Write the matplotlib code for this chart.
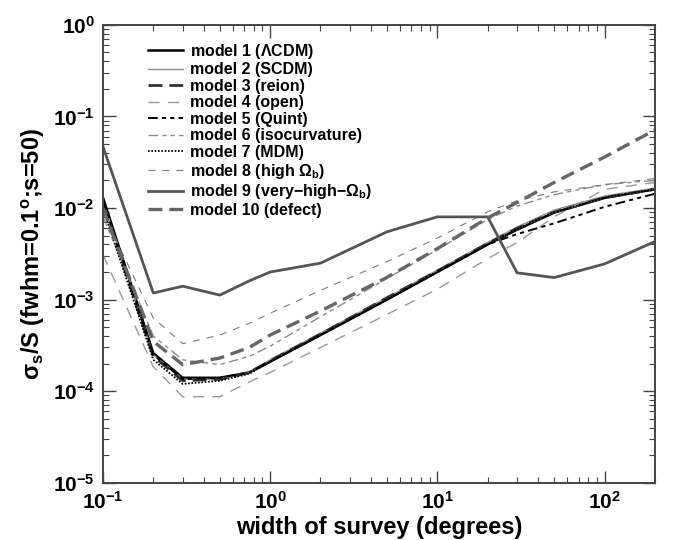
import matplotlib
matplotlib.use("Agg")
import matplotlib.pyplot as plt
from matplotlib.ticker import LogLocator, LogFormatterMathtext, NullFormatter

plt.rcParams['font.family'] = ['Liberation Sans', 'DejaVu Sans']
plt.rcParams['font.weight'] = 'bold'
plt.rcParams['mathtext.fontset'] = 'custom'
plt.rcParams['mathtext.rm'] = 'Liberation Sans:bold'
plt.rcParams['mathtext.bf'] = 'Liberation Sans:bold'
plt.rcParams['mathtext.it'] = 'Liberation Sans:bold'
plt.rcParams['lines.scale_dashes'] = False

# survey width (degrees)
width = [0.1, 0.2, 0.3, 0.5, 0.75, 1, 2, 5, 10, 20, 30, 50, 100, 200]

m1 = [0.013, 2.6e-4, 1.4e-4, 1.4e-4, 1.6e-4, 2.1e-4, 4.1e-4, 1.0e-3, 2.0e-3, 4.0e-3, 5.8e-3, 8.9e-3, 1.29e-2, 1.6e-2]
m2 = [0.012, 2.5e-4, 1.35e-4, 1.35e-4, 1.6e-4, 2.2e-4, 4.3e-4, 1.05e-3, 2.1e-3, 4.2e-3, 6.2e-3, 9.5e-3, 1.35e-2, 1.65e-2]
m3 = [0.011, 2.4e-4, 1.3e-4, 1.35e-4, 1.6e-4, 2.15e-4, 4.2e-4, 1.05e-3, 2.05e-3, 4.1e-3, 6.0e-3, 9.0e-3, 1.3e-2, 1.6e-2]
m4 = [3.1e-3, 1.85e-4, 8.7e-5, 8.7e-5, 1.26e-4, 1.6e-4, 3.0e-4, 6.9e-4, 1.3e-3, 2.8e-3, 4.2e-3, 8.0e-3, 1.6e-2, 1.9e-2]
m5 = [0.012, 2.5e-4, 1.35e-4, 1.4e-4, 1.6e-4, 2.1e-4, 4.1e-4, 1.0e-3, 2.0e-3, 4.0e-3, 5.2e-3, 6.8e-3, 1.03e-2, 1.43e-2]
m6 = [8e-3, 4e-4, 2.2e-4, 1.95e-4, 2.4e-4, 3.1e-4, 6.5e-4, 1.7e-3, 3.5e-3, 7.5e-3, 1.05e-2, 1.4e-2, 1.8e-2, 2.0e-2]
m7 = [0.01, 2.2e-4, 1.2e-4, 1.3e-4, 1.55e-4, 2.1e-4, 4.1e-4, 1.0e-3, 2.0e-3, 4.0e-3, 5.9e-3, 9.0e-3, 1.3e-2, 1.6e-2]
m8 = [9e-3, 6.3e-4, 3.3e-4, 4.1e-4, 5.5e-4, 7.1e-4, 1.26e-3, 2.6e-3, 4.7e-3, 9.1e-3, 1.2e-2, 1.5e-2, 1.8e-2, 2.1e-2]
m9 = [0.047, 1.18e-3, 1.4e-3, 1.12e-3, 1.6e-3, 2.0e-3, 2.5e-3, 5.5e-3, 8e-3, 8e-3, 1.96e-3, 1.74e-3, 2.45e-3, 4.3e-3]
m10 = [0.01, 3.5e-4, 1.95e-4, 2.3e-4, 3.0e-4, 4.1e-4, 7.5e-4, 1.75e-3, 3.6e-3, 7.8e-3, 1.15e-2, 1.9e-2, 3.6e-2, 7.1e-2]

labels = ["model 1 ($\\Lambda$CDM)", "model 2 (SCDM)", "model 3 (reion)", "model 4 (open)",
          "model 5 (Quint)", "model 6 (isocurvature)", "model 7 (MDM)",
          "model 8 (high $\\Omega_{\\rm b}$)", "model 9 (very$-$high$-\\Omega_{\\rm b}$)",
          "model 10 (defect)"]

fig = plt.figure(figsize=(6.73, 5.4), dpi=100)
ax = fig.add_axes([0.153, 0.106, 0.82, 0.848])

ax.plot(width, m1, color='black', lw=1.8, label=labels[0])
ax.plot(width, m2, color='#8a8a8a', lw=1.0, label=labels[1])
ax.plot(width, m3, color='#333333', lw=2.0, dashes=(10, 5), label=labels[2])
ax.plot(width, m4, color='#9a9a9a', lw=1.0, dashes=(8, 6), label=labels[3])
ax.plot(width, m5, color='black', lw=1.4, dashes=(7, 3, 3, 3, 3, 3), label=labels[4])
ax.plot(width, m6, color='#8a8a8a', lw=1.0, dashes=(7, 3, 3, 3, 3, 3), label=labels[5])
ax.plot(width, m7, color='black', lw=1.3, dashes=(1.2, 1.2), label=labels[6])
ax.plot(width, m8, color='#7a7a7a', lw=0.8, dashes=(5, 5), label=labels[7])
ax.plot(width, m9, color='#555555', lw=2.0, label=labels[8])
ax.plot(width, m10, color='#666666', lw=2.4, dashes=(10, 5), label=labels[9])

ax.set_xscale('log')
ax.set_yscale('log')
ax.set_xlim(0.1, 200)
ax.set_ylim(1e-5, 1)

for a in (ax.xaxis, ax.yaxis):
    a.set_major_locator(LogLocator(base=10, numticks=10))
    a.set_minor_locator(LogLocator(base=10, subs=range(2, 10), numticks=10))
    a.set_major_formatter(LogFormatterMathtext())
    a.set_minor_formatter(NullFormatter())

ax.tick_params(which='both', direction='in', top=True, right=True, color='#444444')
ax.tick_params(which='major', length=9, width=1.0, labelsize=15, pad=6)
ax.tick_params(which='minor', length=4.5, width=0.8)
for s in ax.spines.values():
    s.set_color('#444444')
    s.set_linewidth(1.4)

ax.set_xlabel('width of survey (degrees)', fontsize=17, fontweight='bold', labelpad=2)
ax.set_ylabel('$\\sigma_{\\rm s}$/S (fwhm=0.1$^{\\rm o}$;s=50)', fontsize=17, fontweight='bold', labelpad=4)

leg = ax.legend(loc='upper left', bbox_to_anchor=(0.055, 0.995), frameon=False,
                fontsize=11.5, handlelength=2.2, handletextpad=0.45, labelspacing=0.1)

fig.savefig('out.png', dpi=100)
